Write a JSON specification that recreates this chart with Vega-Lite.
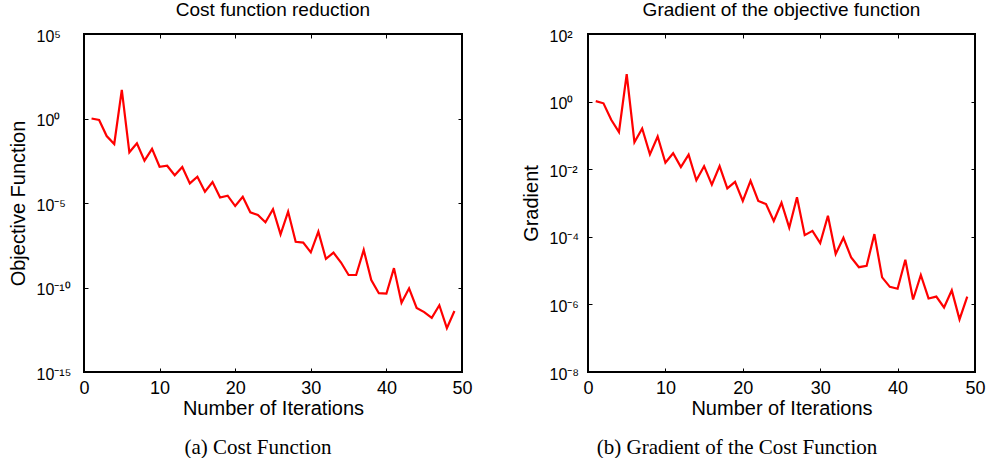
{
  "$schema": "https://vega.github.io/schema/vega-lite/v6.json",
  "padding": {"left": 7, "top": 0, "right": 0, "bottom": 0},
  "background": "white",
  "datasets": {
    "cost": [
      {"iter": 1, "value": 1}, {"iter": 2, "value": 0.81}, {"iter": 3, "value": 0.091}, {"iter": 4, "value": 0.031},
      {"iter": 5, "value": 49}, {"iter": 6, "value": 0.01}, {"iter": 7, "value": 0.034}, {"iter": 8, "value": 0.0032},
      {"iter": 9, "value": 0.016}, {"iter": 10, "value": 0.0014}, {"iter": 11, "value": 0.0016}, {"iter": 12, "value": 4.4e-4},
      {"iter": 13, "value": 1.35e-3}, {"iter": 14, "value": 1.45e-4}, {"iter": 15, "value": 3.6e-4}, {"iter": 16, "value": 4.7e-5},
      {"iter": 17, "value": 1.74e-4}, {"iter": 18, "value": 2.1e-5}, {"iter": 19, "value": 2.7e-5}, {"iter": 20, "value": 6.6e-6},
      {"iter": 21, "value": 2.3e-5}, {"iter": 22, "value": 2.8e-6}, {"iter": 23, "value": 1.95e-6}, {"iter": 24, "value": 7.2e-7},
      {"iter": 25, "value": 4.3e-6}, {"iter": 26, "value": 1.4e-7}, {"iter": 27, "value": 3.1e-6}, {"iter": 28, "value": 5.1e-8},
      {"iter": 29, "value": 4.5e-8}, {"iter": 30, "value": 1.2e-8}, {"iter": 31, "value": 2.0e-7}, {"iter": 32, "value": 4.9e-9},
      {"iter": 33, "value": 1.15e-8}, {"iter": 34, "value": 3.0e-9}, {"iter": 35, "value": 5.5e-10}, {"iter": 36, "value": 5.5e-10},
      {"iter": 37, "value": 1.66e-8}, {"iter": 38, "value": 2.75e-10}, {"iter": 39, "value": 4.6e-11}, {"iter": 40, "value": 4.3e-11},
      {"iter": 41, "value": 1.4e-9}, {"iter": 42, "value": 1.26e-11}, {"iter": 43, "value": 8.9e-11}, {"iter": 44, "value": 6.2e-12},
      {"iter": 45, "value": 3.5e-12}, {"iter": 46, "value": 1.6e-12}, {"iter": 47, "value": 8.9e-12}, {"iter": 48, "value": 3.9e-13},
      {"iter": 49, "value": 4.1e-12}
    ],
    "grad": [
      {"iter": 1, "value": 1.03}, {"iter": 2, "value": 0.89}, {"iter": 3, "value": 0.29}, {"iter": 4, "value": 0.126},
      {"iter": 5, "value": 6.5}, {"iter": 6, "value": 0.063}, {"iter": 7, "value": 0.16}, {"iter": 8, "value": 0.0275},
      {"iter": 9, "value": 0.093}, {"iter": 10, "value": 0.0155}, {"iter": 11, "value": 0.0295}, {"iter": 12, "value": 0.0115},
      {"iter": 13, "value": 0.027}, {"iter": 14, "value": 0.0047}, {"iter": 15, "value": 0.0123}, {"iter": 16, "value": 0.0035},
      {"iter": 17, "value": 0.0123}, {"iter": 18, "value": 0.0027}, {"iter": 19, "value": 0.0042}, {"iter": 20, "value": 0.00115},
      {"iter": 21, "value": 0.0045}, {"iter": 22, "value": 0.00115}, {"iter": 23, "value": 9.3e-4}, {"iter": 24, "value": 2.95e-4},
      {"iter": 25, "value": 1.02e-3}, {"iter": 26, "value": 1.86e-4}, {"iter": 27, "value": 1.48e-3}, {"iter": 28, "value": 1.12e-4},
      {"iter": 29, "value": 1.5e-4}, {"iter": 30, "value": 6.5e-5}, {"iter": 31, "value": 4.2e-4}, {"iter": 32, "value": 3.1e-5},
      {"iter": 33, "value": 9.3e-5}, {"iter": 34, "value": 2.45e-5}, {"iter": 35, "value": 1.26e-5}, {"iter": 36, "value": 1.38e-5},
      {"iter": 37, "value": 1.2e-4}, {"iter": 38, "value": 6.3e-6}, {"iter": 39, "value": 3.3e-6}, {"iter": 40, "value": 2.9e-6},
      {"iter": 41, "value": 2.1e-5}, {"iter": 42, "value": 1.4e-6}, {"iter": 43, "value": 7.4e-6}, {"iter": 44, "value": 1.5e-6},
      {"iter": 45, "value": 1.7e-6}, {"iter": 46, "value": 8.1e-7}, {"iter": 47, "value": 2.6e-6}, {"iter": 48, "value": 3.6e-7},
      {"iter": 49, "value": 1.7e-6}
    ]
  },
  "spacing": 46,
  "hconcat": [
    {
      "title": {"text": "(a) Cost Function", "orient": "bottom", "font": "Liberation Serif", "fontSize": 21, "fontWeight": "normal", "color": "black", "offset": 18, "anchor": "middle", "dx": 18},
      "vconcat": [
        {
          "width": 378,
          "height": 338,
          "data": {"name": "cost"},
          "title": {"text": "Cost function reduction", "font": "Liberation Sans", "fontSize": 19, "fontWeight": "normal", "color": "black", "offset": 8},
          "layer": [
            {
              "mark": {"type": "line", "color": "#ff0000", "strokeWidth": 2.2},
              "encoding": {
                "x": {"field": "iter", "type": "quantitative", "scale": {"domain": [0, 50], "nice": false},
                      "axis": {"orient": "bottom", "values": [0, 10, 20, 30, 40, 50], "title": "Number of Iterations"}},
                "y": {"field": "value", "type": "quantitative", "scale": {"type": "log", "domain": [1e-15, 1e5], "nice": false},
                      "axis": {"orient": "left", "values": [1e-15, 1e-10, 1e-5, 1, 1e5], "title": "Objective Function", "labelPadding": 48,
                               "labelExpr": "datum.value > 10 ? '10⁵' : datum.value > 0.1 ? '10⁰' : datum.value > 1e-7 ? '10⁻⁵' : datum.value > 1e-12 ? '10⁻¹⁰' : '10⁻¹⁵'"}}
              }
            },
            {
              "mark": {"type": "line", "opacity": 0},
              "encoding": {
                "x": {"field": "iter", "type": "quantitative",
                      "axis": {"orient": "bottom", "offset": -4, "ticks": true, "tickSize": 4, "values": [0, 10, 20, 30, 40, 50], "labels": false, "title": null}},
                "y": {"field": "value", "type": "quantitative",
                      "axis": {"orient": "left", "offset": -4, "ticks": true, "tickSize": 4, "values": [1e-15, 1e-10, 1e-5, 1, 1e5], "labels": false, "title": null}}
              }
            },
            {
              "mark": {"type": "line", "opacity": 0},
              "encoding": {
                "x": {"field": "iter", "type": "quantitative",
                      "axis": {"orient": "top", "offset": -4, "ticks": true, "tickSize": 4, "values": [0, 10, 20, 30, 40, 50], "labels": false, "title": null}},
                "y": {"field": "value", "type": "quantitative",
                      "axis": {"orient": "right", "offset": -4, "ticks": true, "tickSize": 4, "values": [1e-15, 1e-10, 1e-5, 1, 1e5], "labels": false, "title": null}}
              }
            }
          ],
          "resolve": {"axis": {"x": "independent", "y": "independent"}}
        }
      ]
    },
    {
      "title": {"text": "(b) Gradient of the Cost Function", "orient": "bottom", "font": "Liberation Serif", "fontSize": 21, "fontWeight": "normal", "color": "black", "offset": 18, "anchor": "middle", "dx": -16},
      "vconcat": [
        {
          "width": 387,
          "height": 338,
          "data": {"name": "grad"},
          "title": {"text": "Gradient of the objective function", "font": "Liberation Sans", "fontSize": 19, "fontWeight": "normal", "color": "black", "offset": 8},
          "layer": [
            {
              "mark": {"type": "line", "color": "#ff0000", "strokeWidth": 2.2},
              "encoding": {
                "x": {"field": "iter", "type": "quantitative", "scale": {"domain": [0, 50], "nice": false},
                      "axis": {"orient": "bottom", "values": [0, 10, 20, 30, 40, 50], "title": "Number of Iterations"}},
                "y": {"field": "value", "type": "quantitative", "scale": {"type": "log", "domain": [1e-8, 100], "nice": false},
                      "axis": {"orient": "left", "values": [1e-8, 1e-6, 1e-4, 1e-2, 1, 100], "title": "Gradient", "labelPadding": 39,
                               "labelExpr": "datum.value > 10 ? '10²' : datum.value > 0.1 ? '10⁰' : datum.value > 1e-3 ? '10⁻²' : datum.value > 1e-5 ? '10⁻⁴' : datum.value > 1e-7 ? '10⁻⁶' : '10⁻⁸'"}}
              }
            },
            {
              "mark": {"type": "line", "opacity": 0},
              "encoding": {
                "x": {"field": "iter", "type": "quantitative",
                      "axis": {"orient": "bottom", "offset": -4, "ticks": true, "tickSize": 4, "values": [0, 10, 20, 30, 40, 50], "labels": false, "title": null}},
                "y": {"field": "value", "type": "quantitative",
                      "axis": {"orient": "left", "offset": -4, "ticks": true, "tickSize": 4, "values": [1e-8, 1e-6, 1e-4, 1e-2, 1, 100], "labels": false, "title": null}}
              }
            },
            {
              "mark": {"type": "line", "opacity": 0},
              "encoding": {
                "x": {"field": "iter", "type": "quantitative",
                      "axis": {"orient": "top", "offset": -4, "ticks": true, "tickSize": 4, "values": [0, 10, 20, 30, 40, 50], "labels": false, "title": null}},
                "y": {"field": "value", "type": "quantitative",
                      "axis": {"orient": "right", "offset": -4, "ticks": true, "tickSize": 4, "values": [1e-8, 1e-6, 1e-4, 1e-2, 1, 100], "labels": false, "title": null}}
              }
            }
          ],
          "resolve": {"axis": {"x": "independent", "y": "independent"}}
        }
      ]
    }
  ],
  "config": {
    "view": {"stroke": "black", "strokeWidth": 2},
    "axis": {
      "grid": false,
      "domain": false,
      "ticks": false,
      "tickColor": "black",
      "tickWidth": 1,
      "labelFont": "Liberation Sans",
      "labelColor": "black",
      "labelFlush": false,
      "labelOverlap": false,
      "titleFont": "Liberation Sans",
      "titleFontSize": 20,
      "titleFontWeight": "normal",
      "titleColor": "black"
    },
    "axisX": {"labelFontSize": 18, "labelPadding": 7, "titlePadding": 1},
    "axisY": {"labelFontSize": 16, "labelAlign": "left", "labelOffset": 2, "titlePadding": 8}
  }
}
